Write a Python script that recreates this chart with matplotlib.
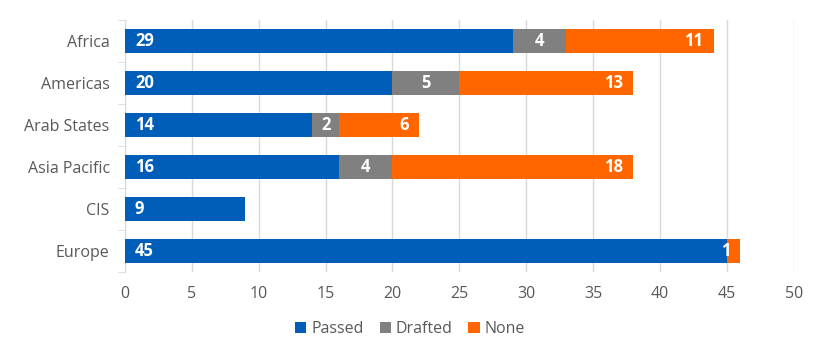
import matplotlib.pyplot as plt
import numpy as np

plt.rcParams['font.family'] = ['Open Sans', 'DejaVu Sans']

regions = ['Africa', 'Americas', 'Arab States', 'Asia Pacific', 'CIS', 'Europe']
passed = [29, 20, 14, 16, 9, 45]
drafted = [4, 5, 2, 4, 0, 0]
none = [11, 13, 6, 18, 0, 1]

blue = '#005EB8'
grey = '#808080'
orange = '#FF6600'
txt = '#595959'

fig = plt.figure(figsize=(8.2, 3.55), dpi=100)
ax = fig.add_axes([0.1524, 0.234, 0.8156, 0.71])

y = np.arange(len(regions))
h = 0.57
passed = np.array(passed)
drafted = np.array(drafted)
none = np.array(none)

b1 = ax.barh(y, passed, height=h, color=blue, label='Passed', zorder=3)
b2 = ax.barh(y, drafted, left=passed, height=h, color=grey, label='Drafted', zorder=3)
b3 = ax.barh(y, none, left=passed + drafted, height=h, color=orange, label='None', zorder=3)

# value labels: passed at the base, drafted centred, none at the end
for i in range(len(regions)):
    if passed[i]:
        ax.text(0.75, y[i], str(passed[i]), color='white', fontweight='bold',
                fontsize=12, va='center', ha='left', zorder=4)
    if drafted[i]:
        ax.text(passed[i] + drafted[i] / 2, y[i], str(drafted[i]), color='white',
                fontweight='bold', fontsize=12, va='center', ha='center', zorder=4)
    if none[i]:
        end = passed[i] + drafted[i] + none[i]
        ax.text(end - 0.75, y[i], str(none[i]), color='white', fontweight='bold',
                fontsize=12, va='center', ha='right', zorder=4)

ax.set_xlim(0, 50)
ax.set_ylim(len(regions) - 0.5, -0.5)
ax.set_xticks(np.arange(0, 51, 5))
ax.set_yticks(y)
ax.set_yticklabels(regions)
ax.set_yticks(np.arange(-0.5, len(regions), 1), minor=True)
ax.tick_params(axis='y', which='major', length=0, pad=11, labelsize=11.5, labelcolor=txt)
ax.tick_params(axis='y', which='minor', length=5, color='#D9D9D9')
ax.tick_params(axis='x', length=0, pad=10, labelsize=11.5, labelcolor=txt)
ax.grid(axis='x', color='#D9D9D9', linewidth=1, zorder=0)

for s in ['top', 'right', 'bottom']:
    ax.spines[s].set_visible(False)
ax.spines['left'].set_color('#D9D9D9')

fig.legend(handles=[b1, b2, b3], labels=['Passed', 'Drafted', 'None'],
           loc='center', bbox_to_anchor=(0.5, 0.072), ncol=3, frameon=False,
           fontsize=11.5, labelcolor=txt, handlelength=0.7, handleheight=0.7,
           handletextpad=0.3, columnspacing=1.0)

fig.savefig('out.png', dpi=100)
